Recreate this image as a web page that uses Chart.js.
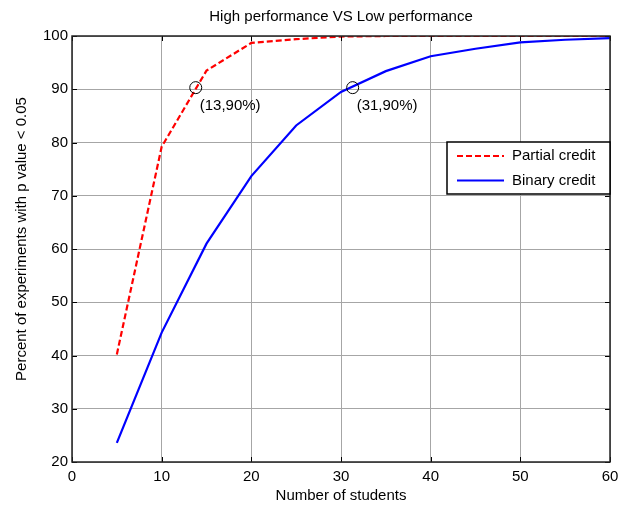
<!DOCTYPE html>
<html>
<head>
<meta charset="utf-8">
<script src="https://cdn.jsdelivr.net/npm/chart.js@4"></script>
<style>
  html, body { margin: 0; padding: 0; background: #fff; }
  #wrap { width: 629px; height: 508px; }
</style>
</head>
<body>
<div id="wrap"><canvas id="plot" width="629" height="508"></canvas></div>
<script>
// number of students
const students = [5, 10, 15, 20, 25, 30, 35, 40, 45, 50, 55, 60];
// percent of experiments with p < 0.05
const partialCredit = [40.2, 79.2, 93.5, 98.7, 99.4, 99.9, 100, 100, 100, 100, 100, 100];
const binaryCredit  = [23.6, 44.3, 61.0, 73.7, 83.2, 89.5, 93.4, 96.2, 97.6, 98.8, 99.3, 99.6];
// marked points + their labels
const markX = [13.8, 31.3];
const markY = [90.3, 90.3];
const markText = ['(13,90%)', '(31,90%)'];

const FONT = 'Liberation Sans, Arial, Helvetica, sans-serif';

const toPts = (xs, ys) => xs.map((x, i) => ({x: x, y: ys[i]}));

// draws the matlab style title, box, inner ticks, circles, labels, ylabel and legend
const matlabBits = {
  id: 'matlabBits',
  afterDraw(chart) {
    const ctx = chart.ctx;
    const a = chart.chartArea;
    const xs = chart.scales.x, ys = chart.scales.y;
    ctx.save();

    // inner ticks
    ctx.strokeStyle = '#000';
    ctx.lineWidth = 1;
    ctx.beginPath();
    for (let v = 0; v <= 60; v += 10) {
      const px = Math.round(xs.getPixelForValue(v)) + 0.5;
      ctx.moveTo(px, a.bottom); ctx.lineTo(px, a.bottom - 5);
      ctx.moveTo(px, a.top); ctx.lineTo(px, a.top + 5);
    }
    for (let v = 20; v <= 100; v += 10) {
      const py = Math.round(ys.getPixelForValue(v)) + 0.5;
      ctx.moveTo(a.left, py); ctx.lineTo(a.left + 5, py);
      ctx.moveTo(a.right, py); ctx.lineTo(a.right - 5, py);
    }
    ctx.stroke();

    // box
    ctx.strokeStyle = '#222';
    ctx.lineWidth = 1.5;
    ctx.strokeRect(a.left, a.top, a.right - a.left, a.bottom - a.top);

    ctx.fillStyle = '#000';
    ctx.font = '15px ' + FONT;
    ctx.textBaseline = 'middle';

    // title, centred over the axes
    ctx.textAlign = 'center';
    ctx.fillText('High performance VS Low performance', (a.left + a.right) / 2, 17);

    // circles and labels
    ctx.lineWidth = 1;
    ctx.strokeStyle = '#000';
    ctx.textAlign = 'left';
    markX.forEach((mx, i) => {
      const px = xs.getPixelForValue(mx);
      const py = ys.getPixelForValue(markY[i]);
      ctx.beginPath();
      ctx.arc(px, py, 6, 0, Math.PI * 2);
      ctx.stroke();
      ctx.fillText(markText[i], px + 4, py + 18);
    });

    // y label
    ctx.save();
    ctx.translate(22, 239);
    ctx.rotate(-Math.PI / 2);
    ctx.textAlign = 'center';
    ctx.fillText('Percent of experiments with p value < 0.05', 0, 0);
    ctx.restore();

    // legend
    const lx = 447, ly = 142, lw = a.right - 447, lh = 52;
    ctx.fillStyle = '#fff';
    ctx.fillRect(lx, ly, lw, lh);
    ctx.strokeStyle = '#000';
    ctx.lineWidth = 1.5;
    ctx.strokeRect(lx, ly, lw, lh);
    chart.data.datasets.forEach((ds, i) => {
      const y = ly + 14 + i * 24.5;
      ctx.strokeStyle = ds.borderColor;
      ctx.lineWidth = 2;
      ctx.setLineDash(ds.borderDash || []);
      ctx.beginPath();
      ctx.moveTo(457, y); ctx.lineTo(504, y);
      ctx.stroke();
      ctx.setLineDash([]);
      ctx.fillStyle = '#000';
      ctx.textAlign = 'left';
      ctx.fillText(ds.label, 512, y);
    });

    ctx.restore();
  }
};

const ctx1 = document.getElementById('plot').getContext('2d');
const chart = new Chart(ctx1, {
  type: 'line',
  data: {
    datasets: [{
      label: 'Partial credit',
      data: toPts(students, partialCredit),
      borderColor: '#ff0000',
      borderDash: [6, 3],
      borderWidth: 2.2,
      pointRadius: 0,
      tension: 0,
      fill: false
    }, {
      label: 'Binary credit',
      data: toPts(students, binaryCredit),
      borderColor: '#0000ff',
      borderWidth: 2.2,
      pointRadius: 0,
      tension: 0,
      fill: false
    }]
  },
  options: {
    responsive: false,
    animation: false,
    layout: { padding: { left: 0, right: 19, top: 36, bottom: 0 } },
    plugins: {
      legend: { display: false },
      tooltip: { enabled: false },
      title: { display: false }
    },
    scales: {
      x: {
        type: 'linear',
        min: 0, max: 60,
        ticks: { stepSize: 10, color: '#000', padding: 6, font: { family: FONT, size: 15 } },
        grid: { color: '#a6a6a6', drawTicks: false },
        border: { display: false },
        title: {
          display: true,
          text: 'Number of students',
          color: '#000',
          font: { family: FONT, size: 15 },
          padding: { top: 0, bottom: 3 }
        },
        afterFit: s => { s.height = 46; }
      },
      y: {
        min: 20, max: 100,
        ticks: { stepSize: 10, color: '#000', padding: 4, font: { family: FONT, size: 15 } },
        grid: { color: '#a6a6a6', drawTicks: false },
        border: { display: false },
        afterFit: s => { s.width = 72; }
      }
    }
  },
  plugins: [matlabBits]
});
</script>
</body>
</html>
